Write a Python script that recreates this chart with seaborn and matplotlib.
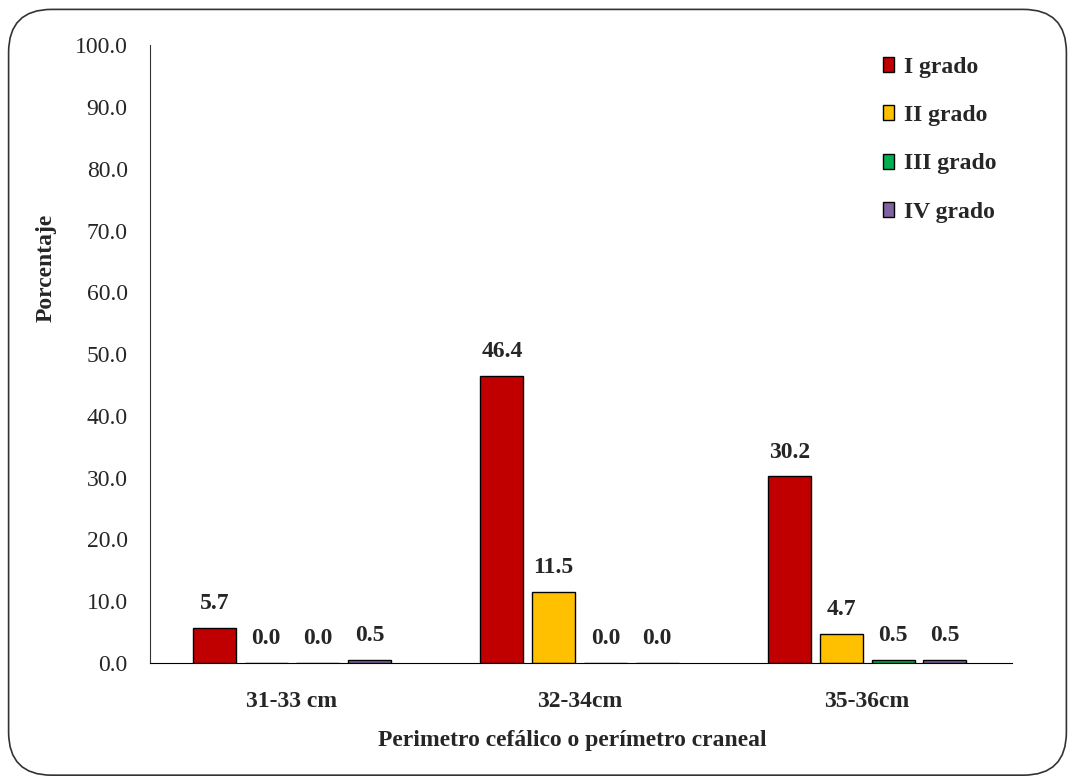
import numpy as np
import pandas as pd
import matplotlib
matplotlib.use("Agg")
import matplotlib.pyplot as plt
from matplotlib.patches import FancyBboxPatch
import seaborn as sns

categorias = ["31-33 cm", "32-34cm", "35-36cm"]
grados = ["I grado", "II grado", "III grado", "IV grado"]
grado_1 = [5.7, 46.4, 30.2]
grado_2 = [0.0, 11.5, 4.7]
grado_3 = [0.0, 0.0, 0.5]
grado_4 = [0.5, 0.0, 0.5]
colores = ["#C00000", "#FFC000", "#00B050", "#8064A2"]

df = pd.DataFrame({
    "perimetro": categorias * 4,
    "grado": np.repeat(grados, 3),
    "valor": grado_1 + grado_2 + grado_3 + grado_4,
})

sns.set_style("white")
plt.rcParams['font.family'] = ['Liberation Serif', 'DejaVu Serif']

fig = plt.figure(figsize=(10.75, 7.83), dpi=100)
ax = fig.add_axes([0.1395, 0.1533, 0.802, 0.789])

sns.barplot(data=df, x="perimetro", y="valor", hue="grado", palette=colores,
            saturation=1, width=0.72, gap=0.17, edgecolor="black", linewidth=1, ax=ax)

for cont in ax.containers:
    ax.bar_label(cont, fmt="%.1f", padding=10, fontsize=17, fontweight="bold")

ax.set_ylim(0, 100)
ax.set_xlim(-0.494, 2.504)
ax.set_yticks(np.arange(0, 101, 10))
ax.set_yticklabels([f"{v:.1f}" for v in np.arange(0, 101, 10)], fontsize=17, color="#262626")
ax.tick_params(axis="y", length=0, pad=16)
ax.tick_params(axis="x", length=0, labelsize=17, pad=20)
for t in ax.get_xticklabels():
    t.set_fontweight("bold")
ax.set_xlabel("Perimetro cefálico o perímetro craneal", fontsize=17, fontweight="bold")
ax.set_ylabel("Porcentaje", fontsize=17, fontweight="bold")
ax.xaxis.set_label_coords(0.49, -0.108)
ax.yaxis.set_label_coords(-0.108, 0.639)

for s in ["top", "right"]:
    ax.spines[s].set_visible(False)
ax.spines["left"].set_color("#333333")
ax.spines["bottom"].set_color("black")

leg = ax.legend(loc="upper right", frameon=False, fontsize=17, handlelength=0.45,
                handleheight=0.6, labelspacing=1.15, handletextpad=0.4,
                bbox_to_anchor=(1.006, 1.015))
for t in leg.get_texts():
    t.set_fontweight("bold")

borde = FancyBboxPatch((0.008, 0.01), 0.984, 0.978, boxstyle="round,pad=0,rounding_size=0.04",
                       transform=fig.transFigure, fill=False, edgecolor="#333333", linewidth=1.2,
                       mutation_aspect=1075 / 783)
fig.patches.append(borde)

fig.savefig("out.png", dpi=100)
